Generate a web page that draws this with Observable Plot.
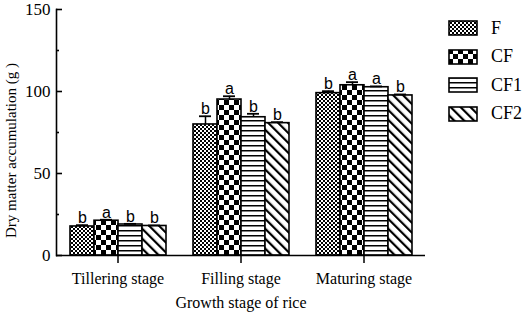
<!DOCTYPE html>
<html><head><meta charset="utf-8">
<script src="https://cdn.jsdelivr.net/npm/d3@7"></script>
<script src="https://cdn.jsdelivr.net/npm/@observablehq/plot@0.6"></script>
<style>
body{margin:0;background:#fff;}
#wrap{position:relative;width:526px;height:317px;overflow:hidden;background:#fff;}
#legend{position:absolute;left:448px;top:14px;font-family:"Liberation Serif","Times New Roman",serif;font-size:18px;color:#000;}
.row{display:flex;align-items:center;height:28.5px;}
.row svg{margin-right:13px;display:block;}
</style></head><body>
<svg width="0" height="0" style="position:absolute">
<defs>
<pattern id="pF" width="4" height="4" patternUnits="userSpaceOnUse"><rect width="4" height="4" fill="#fff"/><rect width="2" height="2" fill="#000"/><rect x="2" y="2" width="2" height="2" fill="#000"/></pattern>
<pattern id="pCF" width="10" height="10" patternUnits="userSpaceOnUse"><rect width="10" height="10" fill="#fff"/><rect width="5" height="5" fill="#000"/><rect x="5" y="5" width="5" height="5" fill="#000"/></pattern>
<pattern id="pCF1" width="5" height="5" patternUnits="userSpaceOnUse"><rect width="5" height="5" fill="#fff"/><rect y="0" width="5" height="1.5" fill="#000"/></pattern>
<pattern id="pCF2" width="7" height="7" patternUnits="userSpaceOnUse" patternTransform="rotate(-45)"><rect width="7" height="7" fill="#fff"/><rect x="0" width="2.2" height="7" fill="#000"/></pattern>
</defs></svg>
<div id="wrap"><div id="chart"></div><div id="legend"></div></div>
<script>
const stages = ["Tillering stage", "Filling stage", "Maturing stage"];
const series = ["F", "CF", "CF1", "CF2"];
const valF   = [17.7, 79.9, 99.0];
const valCF  = [21.2, 95.1, 103.8];
const valCF1 = [18.9, 84.3, 102.6];
const valCF2 = [18.0, 80.7, 97.6];
const errF   = [0.8, 5.0, 1.2];
const errCF  = [0.6, 2.0, 1.9];
const errCF1 = [0.4, 2.1, 0.5];
const errCF2 = [0.3, 0.6, 0.6];
const sigF   = ["b", "b", "b"];
const sigCF  = ["a", "a", "a"];
const sigCF1 = ["b", "b", "a"];
const sigCF2 = ["b", "b", "b"];
const yTicks = [0, 50, 100, 150];
const yMinor = [25, 75, 125];

const vals = [valF, valCF, valCF1, valCF2];
const errs = [errF, errCF, errCF1, errCF2];
const sigs = [sigF, sigCF, sigCF1, sigCF2];
const patterns = ["url(#pF)", "url(#pCF)", "url(#pCF1)", "url(#pCF2)"];

const data = series.flatMap((s, j) => stages.map((st, i) => ({
  stage: st, series: s, value: vals[j][i], err: errs[j][i], sig: sigs[j][i]
})));

const chart = Plot.plot({
  width: 526, height: 317,
  marginLeft: 55, marginRight: 101, marginTop: 9, marginBottom: 62,
  style: {fontFamily: "'Liberation Serif','Times New Roman',serif", fontSize: "14px", color: "#000", background: "#fff"},
  fx: {domain: stages, padding: 0},
  x: {domain: series, paddingInner: 0, paddingOuter: 0.466, axis: null},
  y: {domain: [0, 150], axis: null},
  color: {type: "ordinal", domain: series, range: patterns},
  marks: [
    Plot.barY(data, {fx: "stage", x: "series", y: "value", fill: "series", stroke: "#000", strokeWidth: 1.6}),
    Plot.ruleX(data, {fx: "stage", x: "series", y1: "value", y2: d => d.value + d.err, stroke: "#000", strokeWidth: 1.5}),
    Plot.tickY(data, {fx: "stage", x: "series", y: d => d.value + d.err, insetLeft: 6, insetRight: 6, stroke: "#000", strokeWidth: 1.8}),
    Plot.text(data, {fx: "stage", x: "series", y: d => d.value + d.err, text: "sig", dy: -2, lineAnchor: "bottom",
      fontFamily: "'Liberation Sans',Arial,sans-serif", fontSize: 16, fill: "#000"}),
    Plot.ruleY([0], {stroke: "#000", strokeWidth: 1.6}),
    Plot.frame({anchor: "left", facetAnchor: "left", stroke: "#000", strokeWidth: 1.6}),
    Plot.axisY({ticks: yTicks, tickSize: -6, tickPadding: 12, fontSize: 17, strokeWidth: 1.6,
      label: "Dry matter accumulation (g )", labelAnchor: "center", labelArrow: "none", labelOffset: 51}),
    Plot.axisY({ticks: yMinor, tickSize: -3, tickFormat: () => "", label: null, strokeWidth: 1.6}),
    Plot.axisFx({anchor: "bottom", tickSize: 8, tickPadding: 9, fontSize: 16, strokeWidth: 1.5,
      label: "Growth stage of rice", labelAnchor: "center", labelOffset: 52})
  ]
});
document.getElementById("chart").appendChild(chart);
// axis title font size and vertical placement
d3.select(chart).selectAll("g[aria-label='y-axis label'] text").style("font-size", "15px");
d3.select(chart).selectAll("g[aria-label='fx-axis label'] text").style("font-size", "16px");
d3.select(chart).selectAll("g[aria-label='y-axis label']").each(function() {
  const g = d3.select(this);
  g.attr("transform", (g.attr("transform") || "") + " translate(0,18)");
});

const legend = d3.select("#legend");
series.forEach((s, j) => {
  const row = legend.append("div").attr("class", "row");
  const sw = row.append("svg").attr("width", 30).attr("height", 16);
  sw.append("rect").attr("x", 1).attr("y", 1).attr("width", 28).attr("height", 14)
    .attr("fill", patterns[j]).attr("stroke", "#000").attr("stroke-width", 1.6);
  row.append("span").text(s);
});
</script>
</body></html>
